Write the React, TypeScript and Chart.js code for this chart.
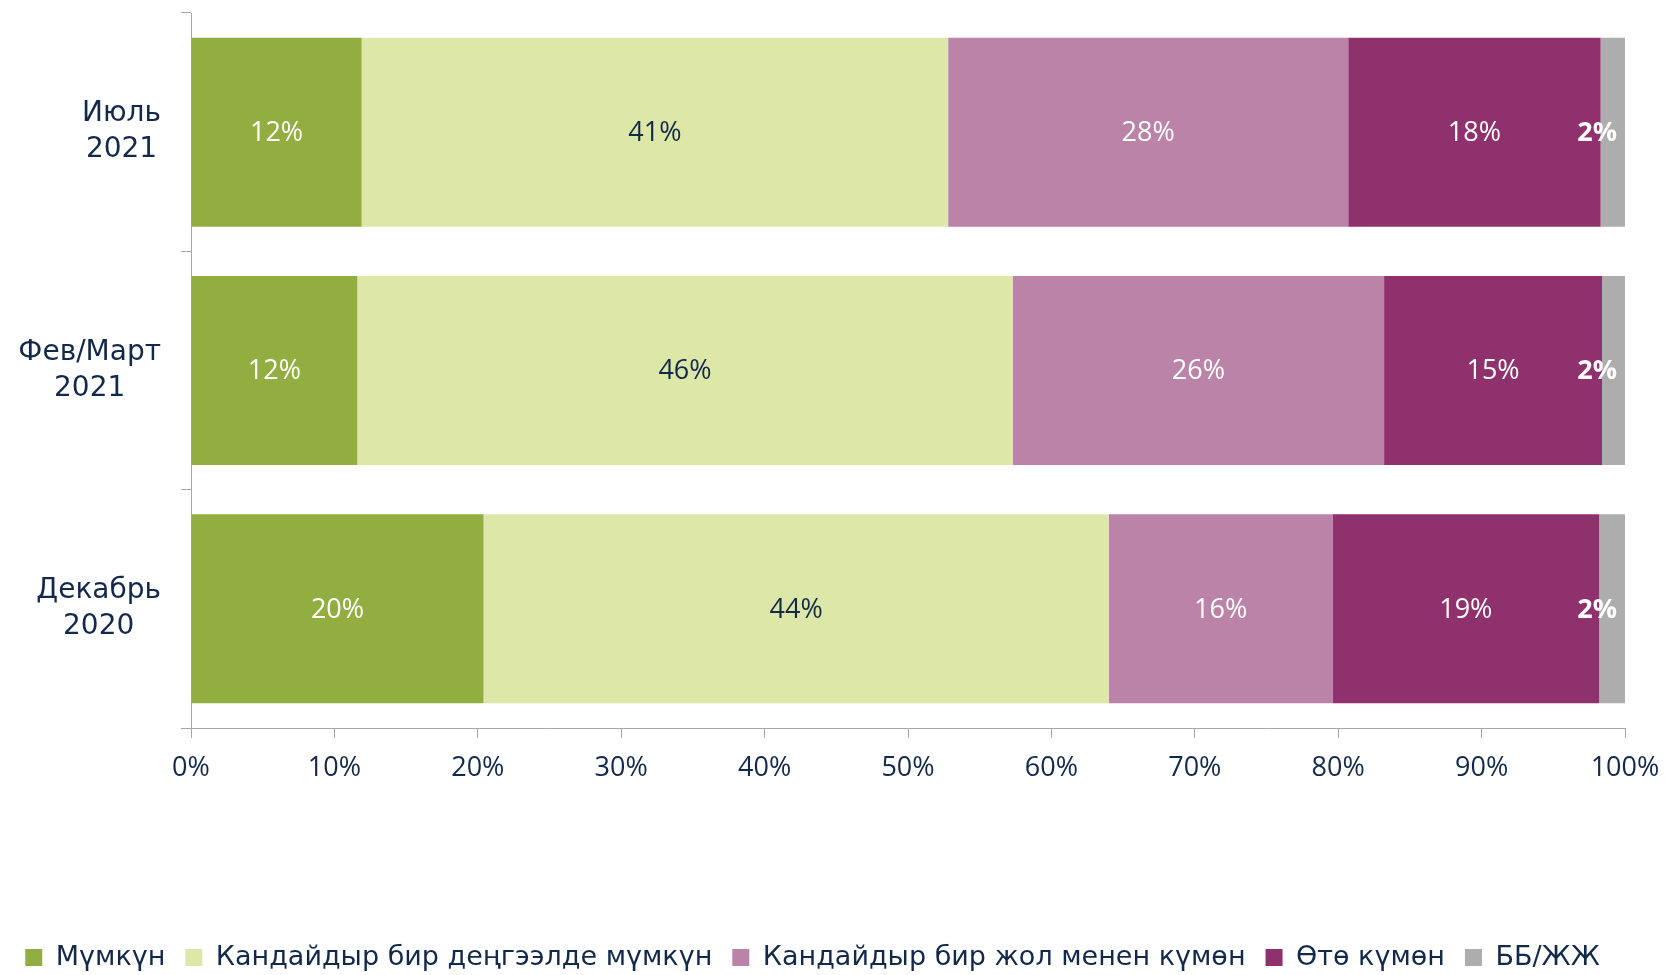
import React, { useEffect, useRef } from "react";
import { Chart, registerables } from "chart.js";
Chart.register(...registerables);

const categories: string[][] = [["Июль", "2021"], ["Фев/Март", "2021"], ["Декабрь", "2020"]];
const seriesNames = [
  "Мүмкүн",
  "Кандайдыр бир деңгээлде мүмкүн",
  "Кандайдыр бир жол менен күмөн",
  "Өтө күмөн",
  "ББ/ЖЖ",
];
const possible = [11.9, 11.6, 20.4];
const somewhatPossible = [40.9, 45.7, 43.6];
const somewhatDoubtful = [27.9, 25.9, 15.6];
const veryDoubtful = [17.6, 15.2, 18.6];
const dontKnow = [1.7, 1.6, 1.8];
const xTickValues = [0, 10, 20, 30, 40, 50, 60, 70, 80, 90, 100];

const colors = ["#93ae40", "#dde8a8", "#bc83a8", "#8e316c", "#adadad"];
const labelColors = ["#ffffff", "#13294b", "#ffffff", "#ffffff", "#ffffff"];
const labelBold = [false, false, false, false, true];

const FONT = "'Open Sans', 'DejaVu Sans', sans-serif";
const WIDE_FONT = "'DejaVu Sans', 'Open Sans', sans-serif";
const NAVY = "#13294b";
const AXIS = "#a6a6a6";

export default function App() {
  const ref = useRef<HTMLCanvasElement | null>(null);
  useEffect(() => {
    document.body.style.margin = "0";
    const canvas = ref.current;
    if (!canvas) return;
    const seriesValues = [possible, somewhatPossible, somewhatDoubtful, veryDoubtful, dontKnow];

    const legendFitPlugin = {
      id: "legendFit",
      beforeLayout(chart: any) {
        const lg = chart.legend;
        if (lg && !lg.__patched) {
          const orig = lg.fit;
          lg.fit = function (this: any) {
            orig.call(this);
            this.height = 51;
          };
          lg.__patched = true;
        }
      },
    };

    const dataLabelPlugin = {
      id: "dataLabels",
      afterDatasetsDraw(chart: any) {
        const ctx = chart.ctx;
        const area = chart.chartArea;
        ctx.save();
        chart.data.datasets.forEach((ds: any, di: number) => {
          const meta = chart.getDatasetMeta(di);
          meta.data.forEach((bar: any, i: number) => {
            const p = bar.getProps(["x", "y", "base"], true);
            const txt = Math.round(ds.data[i]) + "%";
            ctx.font = (labelBold[di] ? "bold " : "") + "27px " + FONT;
            ctx.fillStyle = labelColors[di];
            ctx.textAlign = "center";
            ctx.textBaseline = "middle";
            const w = ctx.measureText(txt).width;
            let cx = (p.x + p.base) / 2;
            if (cx + w / 2 > area.right - 8) cx = area.right - 8 - w / 2;
            ctx.fillText(txt, cx, p.y + 1);
          });
        });
        ctx.restore();
      },
    };

    const catLabelPlugin = {
      id: "catLabels",
      afterDraw(chart: any) {
        const ctx = chart.ctx;
        const ys = chart.scales.y;
        ctx.save();
        ctx.font = "28px " + WIDE_FONT;
        ctx.fillStyle = NAVY;
        ctx.textAlign = "center";
        ctx.textBaseline = "middle";
        const lh = 36;
        categories.forEach((lines, i) => {
          const y = ys.getPixelForTick(i);
          const bw = Math.max(...lines.map((l) => ctx.measureText(l).width));
          const cx = ys.right - 30 - bw / 2;
          lines.forEach((l, j) => {
            ctx.fillText(l, cx, y + (j - (lines.length - 1) / 2) * lh);
          });
        });
        ctx.restore();
      },
    };

    const chart = new Chart(canvas, {
      type: "bar",
      data: {
        labels: categories.map((c) => c.join(" ")),
        datasets: seriesNames.map((name, k) => ({
          label: name,
          data: seriesValues[k],
          backgroundColor: colors[k],
          borderWidth: 0,
          barPercentage: 0.793,
          categoryPercentage: 1,
        })),
      },
      options: {
        indexAxis: "y",
        animation: false,
        responsive: false,
        devicePixelRatio: 1,
        layout: { padding: { top: 13, left: 0, right: 40, bottom: 0 } },
        scales: {
          x: {
            stacked: true,
            min: 0,
            max: 100,
            afterBuildTicks: (s: any) => {
              s.ticks = xTickValues.map((v) => ({ value: v }));
            },
            afterFit: (s: any) => {
              s.height = 196;
              s.paddingLeft = 0;
              s.paddingRight = 0;
            },
            ticks: {
              callback: (v: any) => v + "%",
              color: NAVY,
              font: { family: FONT, size: 27 },
              padding: 14,
              maxRotation: 0,
              autoSkip: false,
            },
            grid: { drawOnChartArea: false, drawTicks: true, tickLength: 10, color: AXIS },
            border: { color: AXIS, width: 1 },
          },
          y: {
            stacked: true,
            afterFit: (s: any) => {
              s.width = 191;
              s.paddingTop = 0;
              s.paddingBottom = 0;
            },
            ticks: { display: false },
            grid: { drawOnChartArea: false, drawTicks: true, tickLength: 10, color: AXIS, offset: true },
            border: { color: AXIS, width: 1 },
          },
        },
        plugins: {
          tooltip: { enabled: false },
          legend: {
            position: "bottom",
            labels: {
              color: NAVY,
              font: { family: WIDE_FONT, size: 27 },
              boxWidth: 17,
              boxHeight: 17,
              padding: 20,
            },
          },
        },
      },
      plugins: [legendFitPlugin, dataLabelPlugin, catLabelPlugin],
    } as any);
    return () => chart.destroy();
  }, []);
  return (
    <div style={{ position: "absolute", left: 0, top: 0, width: 1665, height: 975 }}>
      <canvas ref={ref} width={1665} height={975} style={{ width: 1665, height: 975 }} />
    </div>
  );
}
